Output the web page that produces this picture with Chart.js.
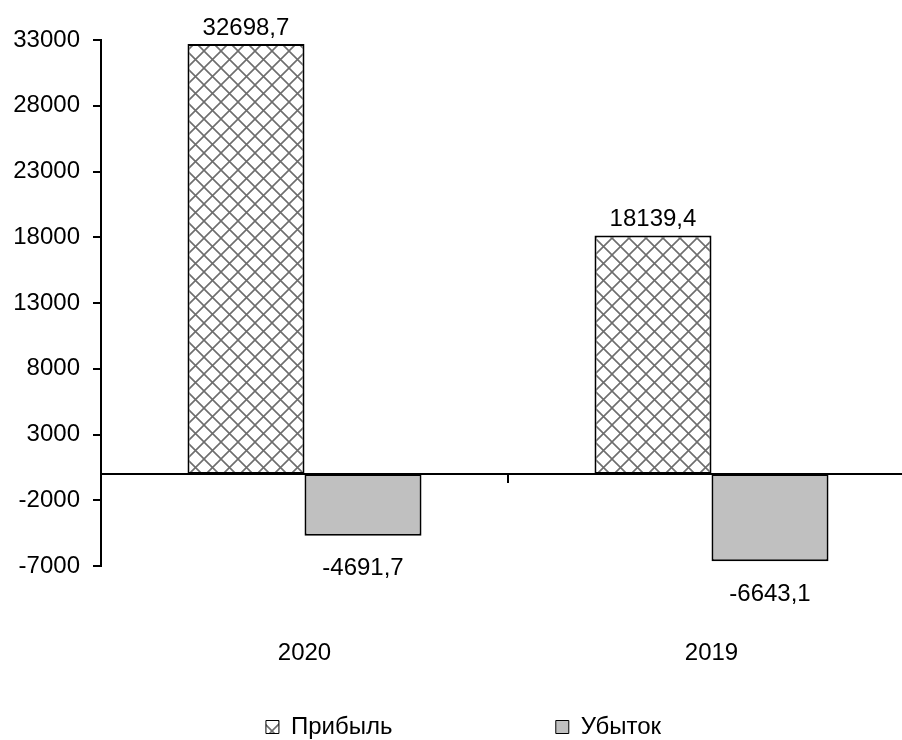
<!DOCTYPE html>
<html>
<head>
<meta charset="utf-8">
<script src="https://cdn.jsdelivr.net/npm/chart.js@4"></script>
<style>
  html, body { margin: 0; padding: 0; overflow: hidden; background: #fff; width: 902px; height: 740px; }
  #wrap { position: absolute; left: 0; top: 0; width: 915px; height: 749px; }
</style>
</head>
<body>
<div id="wrap"><canvas id="c"></canvas></div>
<script>
const categories = ['2020', '2019'];
const seriesNames = ['Прибыль', 'Убыток'];
const profit = [32698.7, 18139.4];
const loss = [-4691.7, -6643.1];
const yTicks = [-7000, -2000, 3000, 8000, 13000, 18000, 23000, 28000, 33000];

const FONT = '"Liberation Sans", Arial, sans-serif';
const FS = 24;

function makeHatch() {
  const s = 17;
  const c = document.createElement('canvas');
  c.width = s; c.height = s;
  const g = c.getContext('2d');
  g.fillStyle = '#ffffff';
  g.fillRect(0, 0, s, s);
  g.strokeStyle = '#6e6e6e';
  g.lineWidth = 1.6;
  g.beginPath();
  for (const k of [-s, 0, s]) {
    g.moveTo(k - 2, -2); g.lineTo(k + s + 2, s + 2);
    g.moveTo(k + s + 2, -2); g.lineTo(k - 2, s + 2);
  }
  g.stroke();
  return g.createPattern(c, 'repeat');
}

const fmt = v => v.toFixed(1).replace('.', ',');

const valueLabels = {
  id: 'valueLabels',
  afterDatasetsDraw(chart) {
    const ctx = chart.ctx;
    ctx.save();
    ctx.font = FS + 'px ' + FONT;
    ctx.fillStyle = '#000';
    ctx.textAlign = 'center';
    chart.data.datasets.forEach((ds, di) => {
      const meta = chart.getDatasetMeta(di);
      meta.data.forEach((bar, i) => {
        const v = ds.data[i];
        if (v >= 0) {
          ctx.textBaseline = 'alphabetic';
          ctx.fillText(fmt(v), bar.x, bar.y - 9);
        } else {
          ctx.textBaseline = 'middle';
          ctx.fillText(fmt(v), bar.x, bar.y + 33);
        }
      });
    });
    ctx.restore();
  }
};

Chart.defaults.color = '#000';
Chart.defaults.font.family = FONT;
Chart.defaults.font.size = FS;

new Chart(document.getElementById('c'), {
  type: 'bar',
  data: {
    labels: categories,
    datasets: [
      {
        label: seriesNames[0],
        data: profit,
        backgroundColor: makeHatch(),
        borderColor: '#000',
        borderWidth: 2,
        borderSkipped: false
      },
      {
        label: seriesNames[1],
        data: loss,
        backgroundColor: '#c0c0c0',
        borderColor: '#000',
        borderWidth: 2,
        borderSkipped: false
      }
    ]
  },
  options: {
    responsive: true,
    maintainAspectRatio: false,
    animation: false,
    layout: { padding: { top: 40, left: 12, right: 0, bottom: 0 } },
    datasets: { bar: { categoryPercentage: 0.575, barPercentage: 1.0 } },
    plugins: {
      tooltip: { enabled: false },
      legend: {
        position: 'bottom',
        labels: {
          boxWidth: 13,
          boxHeight: 13,
          padding: 10,
          color: '#000',
          font: { size: FS, family: FONT },
          generateLabels(chart) {
            const items = Chart.defaults.plugins.legend.labels.generateLabels(chart);
            items.forEach((it, i) => {
              it.lineWidth = 1;
              if (i === 0) it.text = it.text + ' '.repeat(23);
            });
            return items;
          }
        }
      }
    },
    scales: {
      x: {
        type: 'category',
        position: 'bottom',
        grid: { display: false, drawTicks: false },
        border: { display: false },
        ticks: { padding: 73, color: '#000', font: { size: FS } },
        afterFit(scale) { scale.height = 139; }
      },
      x2: {
        type: 'category',
        labels: categories,
        position: { y: 0 },
        offset: true,
        grid: { offset: true, drawOnChartArea: false, drawTicks: true, tickLength: 8, color: '#000', lineWidth: 2 },
        border: { display: true, color: '#000', width: 2 },
        ticks: { display: false },
        afterFit(scale) { scale.height = 0; }
      },
      y: {
        type: 'linear',
        position: 'left',
        min: -7000,
        max: 33000,
        grid: { drawOnChartArea: false, drawTicks: true, tickLength: 8, color: '#000', lineWidth: 2 },
        border: { display: true, color: '#000', width: 2 },
        ticks: { padding: 13, color: '#000', font: { size: FS }, callback: v => String(v) },
        afterBuildTicks(scale) { scale.ticks = yTicks.map(v => ({ value: v })); },
        afterFit(scale) { scale.width = 89; }
      }
    }
  },
  plugins: [valueLabels]
});
</script>
</body>
</html>
